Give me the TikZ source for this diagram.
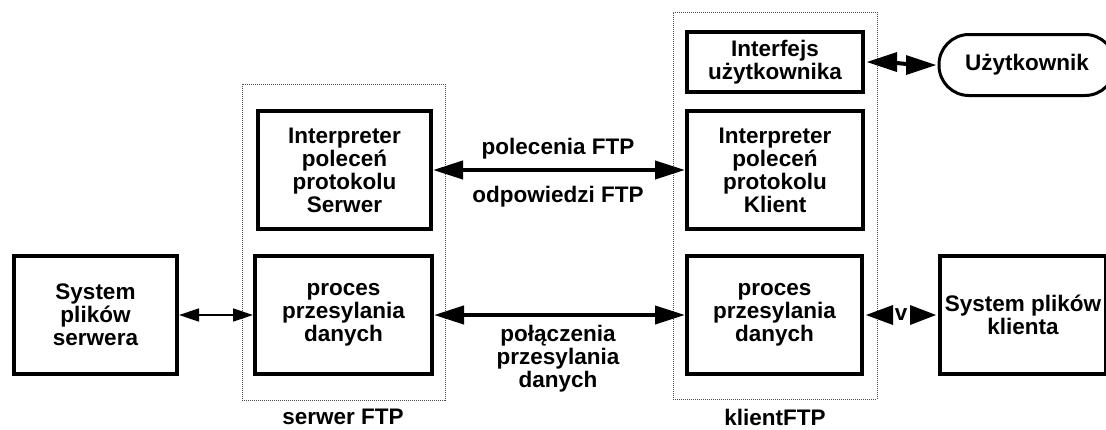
\documentclass[tikz,border=0pt]{standalone}
\usepackage{fontspec}
\setmainfont{Liberation Sans}
\usetikzlibrary{arrows.meta,calc}
\tikzset{
  box/.style={draw, line width=4pt, rectangle, inner sep=0pt, align=center, font=\txt},
  group/.style={draw=black!70, line width=0.7pt, dash pattern=on 1pt off 1pt, rectangle, inner sep=0pt},
  lbl/.style={align=center, font=\txt, inner sep=0pt},
  bigarrow/.style={line width=4pt, {Triangle[length=30pt,width=18pt]}-{Triangle[length=30pt,width=18pt]}},
  thickline/.style={line width=4pt},
  headfill/.style={fill=black},
  smallarrow/.style={line width=1.5pt, {Triangle[length=20pt,width=13pt]}-{Triangle[length=20pt,width=13pt]}},
}
\newcommand{\txt}{\fontsize{22.5}{23}\selectfont\bfseries}
\begin{document}
\begin{tikzpicture}[x=1pt,y=-1pt]
\useasboundingbox (0,0) rectangle (1106,429);
\clip (0,0) rectangle (1106,429);
% groups
\node[group, minimum width=203pt, minimum height=316pt] (sgrp) at (343.5,242) {};
\node[group, minimum width=204pt, minimum height=387pt] (cgrp) at (775,205.5) {};
% boxes
\node[box, minimum width=173pt, minimum height=118pt] (spi) at (344.5,170) {Interpreter\\poleceń\\protokolu\\Serwer};
\node[box, minimum width=177pt, minimum height=118pt] (sdtp) at (343.5,315) {proces\\przesylania\\danych};
\node[box, minimum width=163pt, minimum height=118pt] (ssys) at (95.5,315) {System\\plików\\serwera};
\node[box, minimum width=176pt, minimum height=60pt] (ui) at (775,62) {Interfejs\\użytkownika};
\node[box, minimum width=176pt, minimum height=118pt] (cpi) at (775,170) {Interpreter\\poleceń\\protokolu\\Klient};
\node[box, minimum width=175pt, minimum height=118pt] (cdtp) at (774.5,315) {proces\\przesylania\\danych};
\node[box, minimum width=166pt, minimum height=118pt] (csys) at (1023,315) {System plików\\klienta};
\node[box, line width=3pt, rounded corners=30pt, minimum width=176pt, minimum height=61pt] (user) at (1027,65) {Użytkownik};
% connectors
\draw[bigarrow] (spi.east) -- (cpi.west);
\draw[bigarrow] (sdtp.east) -- (cdtp.west);
\draw[smallarrow] (ssys.east) -- (sdtp.west);
% user <-> interface
\coordinate (ue) at ([xshift=2pt]ui.east);
\coordinate (uw) at ([xshift=-1.5pt]user.west);
\draw[thickline] ([xshift=20pt]ue) -- ([xshift=-20pt]uw);
\fill[headfill] (ue) -- ++(30,-10) -- ++(0,20) -- cycle;
\fill[headfill] (uw) -- ++(-30,-10) -- ++(0,20) -- cycle;
% v
\node[lbl] (v) at ($(cdtp.east)!0.5!(csys.west)$) {v};
\coordinate (ce) at ([xshift=2pt]cdtp.east);
\coordinate (sw) at ([xshift=-2pt]csys.west);
\fill[headfill] (ce) -- ++(27,-10) -- ++(0,20) -- cycle;
\fill[headfill] (sw) -- ++(-26,-10) -- ++(0,20) -- cycle;
% labels
\node[lbl] (pol) at (558,149) {polecenia FTP};
\node[lbl] (odp) at (558,197) {odpowiedzi FTP};
\node[lbl] (conn) at (558,359) {połączenia\\przesylania\\danych};
\node[lbl] (sl) at (343,417) {serwer FTP};
\node[lbl] (cl) at (775,417) {klientFTP};
\end{tikzpicture}
\end{document}
